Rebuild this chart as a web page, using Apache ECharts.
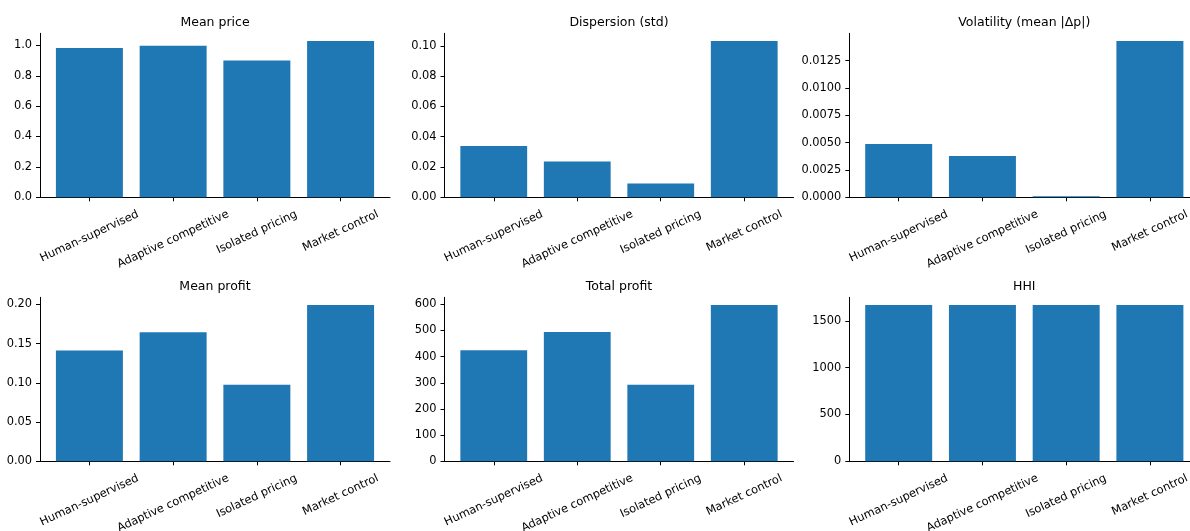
<!DOCTYPE html>
<html>
<head>
<meta charset="utf-8">
<script src="https://cdn.jsdelivr.net/npm/echarts@6/dist/echarts.min.js"></script>
<style>
  html, body { margin: 0; padding: 0; background: #fff; }
  #chart { width: 1190px; height: 531px; }
</style>
</head>
<body>
<div id="chart"></div>
<script>
// categories and values per panel
const categories = ['Human-supervised', 'Adaptive competitive', 'Isolated pricing', 'Market control']

const meanPrice = [0.982, 0.997, 0.901, 1.028]
const dispersion = [0.0338, 0.0236, 0.0091, 0.1031]
const volatility = [0.00487, 0.00378, 0.0001, 0.01429]
const meanProfit = [0.1412, 0.1645, 0.0977, 0.1991]
const totalProfit = [424, 494, 293, 597]
const hhi = [1667, 1667, 1667, 1667]

// y tick labels
const ticksPrice = [0, 0.2, 0.4, 0.6, 0.8, 1.0]
const ticksDispersion = [0, 0.02, 0.04, 0.06, 0.08, 0.10]
const ticksVolatility = [0, 0.0025, 0.005, 0.0075, 0.01, 0.0125]
const ticksMeanProfit = [0, 0.05, 0.10, 0.15, 0.20]
const ticksTotalProfit = [0, 100, 200, 300, 400, 500, 600]
const ticksHhi = [0, 500, 1000, 1500]

const panels = [
  { title: 'Mean price', data: meanPrice, ticks: ticksPrice, dec: 1 },
  { title: 'Dispersion (std)', data: dispersion, ticks: ticksDispersion, dec: 2 },
  { title: 'Volatility (mean |Δp|)', data: volatility, ticks: ticksVolatility, dec: 4 },
  { title: 'Mean profit', data: meanProfit, ticks: ticksMeanProfit, dec: 2 },
  { title: 'Total profit', data: totalProfit, ticks: ticksTotalProfit, dec: 0 },
  { title: 'HHI', data: hhi, ticks: ticksHhi, dec: 0 }
]

const FONT = 'DejaVu Sans'
const TICK_SIZE = 11.4
const TITLE_SIZE = 12.5
const ROT = 25

// grid geometry (matplotlib subplot boxes), last column runs past the edge
const colLeft = [40, 444.5, 849.3]
const colWidth = [350, 349, 350]
const rowTop = [33.3, 297.3]
const rowHeight = 164

// rotated x labels: mimic matplotlib ha=center / va=top placement
const ctx = document.createElement('canvas').getContext('2d')
ctx.font = TICK_SIZE + 'px "' + FONT + '"'
const sinR = Math.sin(ROT * Math.PI / 180)
const cosR = Math.cos(ROT * Math.PI / 180)
const rich = {}
categories.forEach((c, i) => {
  const L = ctx.measureText(c).width
  const d = 16.4 + L * sinR / 2
  rich['c' + i] = {
    fontFamily: FONT,
    fontSize: TICK_SIZE,
    color: '#000',
    padding: [2 * d * cosR, 2 * d * sinR, 0, 0]
  }
})

const grid = []
const xAxis = []
const yAxis = []
const series = []
const title = []

panels.forEach((p, k) => {
  const col = k % 3
  const row = Math.floor(k / 3)
  grid.push({
    left: colLeft[col],
    top: rowTop[row],
    width: colWidth[col],
    height: rowHeight,
    containLabel: false,
    outerBoundsMode: 'none'
  })
  title.push({
    text: p.title,
    left: colLeft[col] + colWidth[col] / 2,
    top: rowTop[row] - 17,
    textAlign: 'center',
    padding: 0,
    textStyle: { fontFamily: FONT, fontSize: TITLE_SIZE, fontWeight: 'normal', color: '#000' }
  })
  xAxis.push({
    type: 'value',
    gridIndex: k,
    min: -0.59,
    max: 3.59,
    splitLine: { show: false },
    axisLine: { onZero: false, lineStyle: { color: '#000', width: 1 } },
    axisTick: { show: true, length: 4, lineStyle: { color: '#000', width: 1 }, customValues: [0, 1, 2, 3] },
    axisLabel: {
      customValues: [0, 1, 2, 3],
      rotate: ROT,
      align: 'center',
      verticalAlign: 'middle',
      margin: 0,
      fontFamily: FONT,
      fontSize: TICK_SIZE,
      color: '#000',
      formatter: v => '{c' + v + '|' + categories[v] + '}',
      rich
    }
  })
  const maxVal = Math.max(...p.data)
  yAxis.push({
    type: 'value',
    gridIndex: k,
    min: 0,
    max: maxVal * 1.05,
    splitLine: { show: false },
    axisLine: { show: true, onZero: false, lineStyle: { color: '#000', width: 1 } },
    axisTick: { show: true, length: 4, lineStyle: { color: '#000', width: 1 }, customValues: p.ticks },
    axisLabel: {
      customValues: p.ticks,
      margin: 8,
      fontFamily: FONT,
      fontSize: TICK_SIZE,
      color: '#000',
      formatter: v => v.toFixed(p.dec)
    }
  })
  series.push({
    type: 'bar',
    xAxisIndex: k,
    yAxisIndex: k,
    barWidth: '80%',
    itemStyle: { color: '#1f77b4' },
    data: p.data.map((v, i) => [i, v])
  })
})

const myChart = echarts.init(document.getElementById('chart'))
myChart.setOption({
  animation: false,
  backgroundColor: '#fff',
  title,
  grid,
  xAxis,
  yAxis,
  series
})
</script>
</body>
</html>
